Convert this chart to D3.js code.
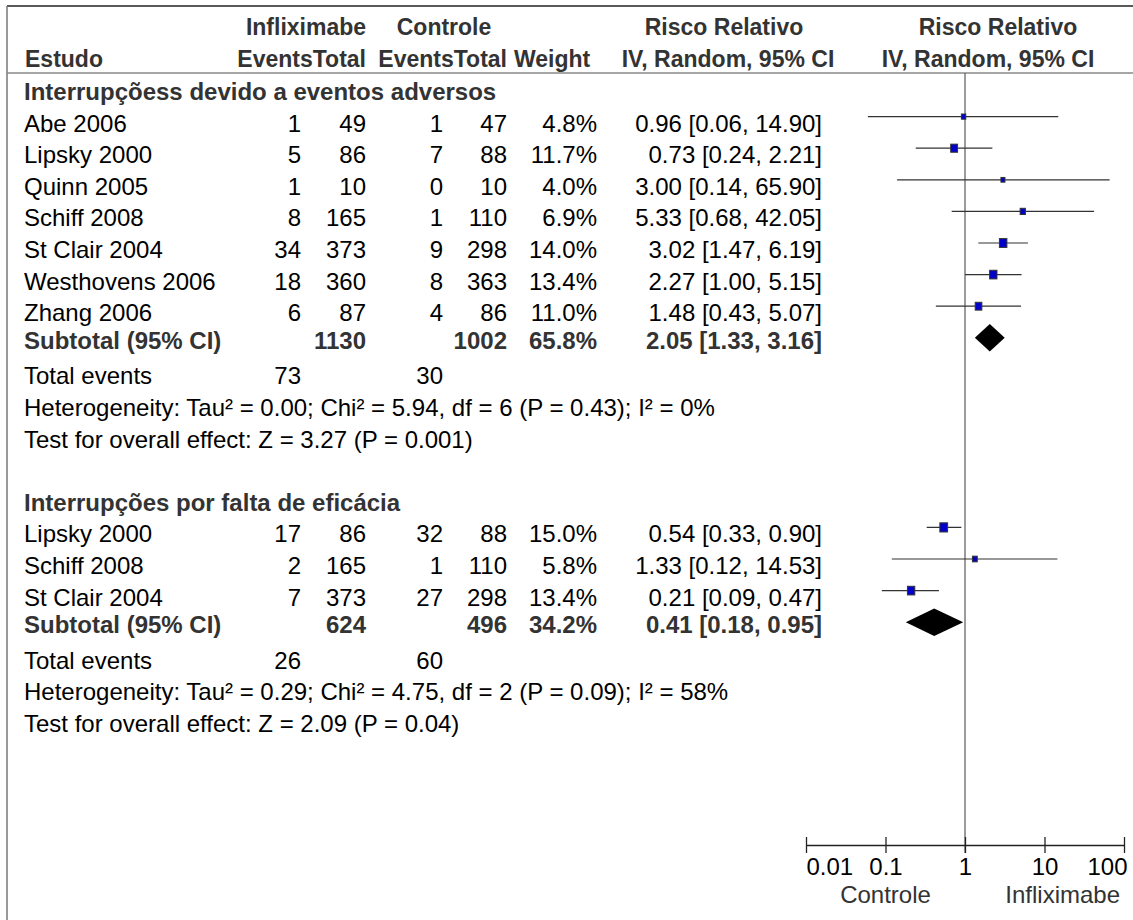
<!DOCTYPE html>
<html>
<head>
<meta charset="utf-8">
<script src="https://cdn.jsdelivr.net/npm/d3@7"></script>
<style>
body { margin: 0; background: #fff; }
text { font-family: "Liberation Sans", Arial, sans-serif; font-size: 24px; }
</style>
</head>
<body>
<div id="chart"></div>
<script>
// group 1: interrupções devido a eventos adversos
var g1Title = "Interrupçõess devido a eventos adversos";
var g1Studies = ["Abe 2006", "Lipsky 2000", "Quinn 2005", "Schiff 2008", "St Clair 2004", "Westhovens 2006", "Zhang 2006"];
var g1InfEvents = [1, 5, 1, 8, 34, 18, 6];
var g1InfTotal = [49, 86, 10, 165, 373, 360, 87];
var g1CtrlEvents = [1, 7, 0, 1, 9, 8, 4];
var g1CtrlTotal = [47, 88, 10, 110, 298, 363, 86];
var g1Weight = [4.8, 11.7, 4.0, 6.9, 14.0, 13.4, 11.0];
var g1RR = [0.96, 0.73, 3.00, 5.33, 3.02, 2.27, 1.48];
var g1Low = [0.06, 0.24, 0.14, 0.68, 1.47, 1.00, 0.43];
var g1High = [14.90, 2.21, 65.90, 42.05, 6.19, 5.15, 5.07];
var g1Sub = [1130, 1002, 65.8, 2.05, 1.33, 3.16];   // inf total, ctrl total, weight, rr, low, high
var g1TotalEvents = [73, 30];
var g1Het = "Heterogeneity: Tau² = 0.00; Chi² = 5.94, df = 6 (P = 0.43); I² = 0%";
var g1Test = "Test for overall effect: Z = 3.27 (P = 0.001)";

// group 2: interrupções por falta de eficácia
var g2Title = "Interrupções por falta de eficácia";
var g2Studies = ["Lipsky 2000", "Schiff 2008", "St Clair 2004"];
var g2InfEvents = [17, 2, 7];
var g2InfTotal = [86, 165, 373];
var g2CtrlEvents = [32, 1, 27];
var g2CtrlTotal = [88, 110, 298];
var g2Weight = [15.0, 5.8, 13.4];
var g2RR = [0.54, 1.33, 0.21];
var g2Low = [0.33, 0.12, 0.09];
var g2High = [0.90, 14.53, 0.47];
var g2Sub = [624, 496, 34.2, 0.41, 0.18, 0.95];
var g2TotalEvents = [26, 60];
var g2Het = "Heterogeneity: Tau² = 0.29; Chi² = 4.75, df = 2 (P = 0.09); I² = 58%";
var g2Test = "Test for overall effect: Z = 2.09 (P = 0.04)";

var tickValues = [0.01, 0.1, 1, 10, 100];
var tickLabels = ["0.01", "0.1", "1", "10", "100"];
var leftLabel = "Controle";
var rightLabel = "Infliximabe";

var groups = [
    {title: g1Title, names: g1Studies, ie: g1InfEvents, it: g1InfTotal, ce: g1CtrlEvents, ct: g1CtrlTotal,
     w: g1Weight, rr: g1RR, lo: g1Low, hi: g1High, sub: g1Sub, ev: g1TotalEvents, het: g1Het, test: g1Test},
    {title: g2Title, names: g2Studies, ie: g2InfEvents, it: g2InfTotal, ce: g2CtrlEvents, ct: g2CtrlTotal,
     w: g2Weight, rr: g2RR, lo: g2Low, hi: g2High, sub: g2Sub, ev: g2TotalEvents, het: g2Het, test: g2Test}
];

var svgWidth = 1133;
var svgHeight = 920;

var svg = d3.select("#chart")
    .append("svg")
    .attr("width", svgWidth)
    .attr("height", svgHeight);

// column right edges
var col = {name: 24, ie: 301, it: 366, ce: 443, ct: 507, w: 597, rr: 822};
var dark = "#333";

// row grid
var rowY = d3.scaleLinear().domain([0, 1]).range([100, 131.6]);

var x = d3.scaleLog().domain([0.01, 100]).range([806, 1124]);

// frame
svg.append("line").attr("x1", 7).attr("x2", svgWidth).attr("y1", 6).attr("y2", 6)
    .attr("stroke", "#222").attr("stroke-width", 1.5);
svg.append("line").attr("x1", 7).attr("x2", 7).attr("y1", 6).attr("y2", svgHeight)
    .attr("stroke", "#777").attr("stroke-width", 1.5);
svg.append("line").attr("x1", 7).attr("x2", svgWidth).attr("y1", 73).attr("y2", 73)
    .attr("stroke", "#888").attr("stroke-width", 1.5);

// header
var header = svg.append("g").attr("font-weight", "bold").attr("fill", dark);
function head(txt, xx, yy, anchor) {
    header.append("text").attr("x", xx).attr("y", yy).attr("text-anchor", anchor)
        .style("font-size", "23px").text(txt);
}
head("Infliximabe", 306, 35, "middle");
head("Controle", 444, 35, "middle");
head("Risco Relativo", 724, 35, "middle");
head("Risco Relativo", 998, 35, "middle");
head("Estudo", col.name + 1, 67, "start");
head("EventsTotal", col.it, 67, "end");
head("EventsTotal", col.ct, 67, "end");
head("Weight", col.ct + 7, 67, "start");
head("IV, Random, 95% CI", 728, 67, "middle");
head("IV, Random, 95% CI", 988, 67, "middle");

// null line
svg.append("line")
    .attr("x1", x(1)).attr("x2", x(1))
    .attr("y1", 73).attr("y2", 853)
    .attr("stroke", "#666").attr("stroke-width", 1.3);

var fmt2 = d3.format(".2f");
function ciText(r, l, h) { return fmt2(r) + " [" + fmt2(l) + ", " + fmt2(h) + "]"; }

var body = svg.append("g");
function cell(txt, xx, yy, anchor, bold) {
    body.append("text").attr("x", xx).attr("y", yy)
        .attr("text-anchor", anchor)
        .attr("font-weight", bold ? "bold" : null)
        .attr("fill", bold ? dark : "#000")
        .text(txt);
}

var row = 0;
groups.forEach(function(g) {
    cell(g.title, col.name, rowY(row), "start", true);
    row += 1;
    var first = row;
    g.names.forEach(function(n, i) {
        var yy = rowY(row);
        cell(n, col.name, yy, "start");
        cell(g.ie[i], col.ie, yy, "end");
        cell(g.it[i], col.it, yy, "end");
        cell(g.ce[i], col.ce, yy, "end");
        cell(g.ct[i], col.ct, yy, "end");
        cell(g.w[i].toFixed(1) + "%", col.w, yy, "end");
        cell(ciText(g.rr[i], g.lo[i], g.hi[i]), col.rr, yy, "end");
        row += 1;
    });

    // study marks
    var marks = svg.append("g");
    marks.selectAll("line")
        .data(g.names)
        .enter()
        .append("line")
        .attr("x1", (d, i) => x(g.lo[i]))
        .attr("x2", (d, i) => x(g.hi[i]))
        .attr("y1", (d, i) => rowY(first + i) - 15)
        .attr("y2", (d, i) => rowY(first + i) - 15)
        .attr("stroke", "#333")
        .attr("stroke-width", 1.2);
    marks.selectAll("rect")
        .data(g.names)
        .enter()
        .append("rect")
        .attr("x", (d, i) => x(g.rr[i]) - Math.sqrt(g.w[i]))
        .attr("y", (d, i) => rowY(first + i) - 15 - 1.18 * Math.sqrt(g.w[i]))
        .attr("width", (d, i) => 2 * Math.sqrt(g.w[i]))
        .attr("height", (d, i) => 2.36 * Math.sqrt(g.w[i]))
        .attr("fill", "#0000c8")
        .attr("stroke", "#333")
        .attr("stroke-width", 1);

    // subtotal
    var sy = rowY(row);
    cell("Subtotal (95% CI)", col.name, sy - 4, "start", true);
    cell(g.sub[0], col.it, sy - 4, "end", true);
    cell(g.sub[1], col.ct, sy - 4, "end", true);
    cell(g.sub[2].toFixed(1) + "%", col.w, sy - 4, "end", true);
    cell(ciText(g.sub[3], g.sub[4], g.sub[5]), col.rr, sy - 4, "end", true);
    var dy = sy - 15;
    svg.append("polygon")
        .attr("points", [[x(g.sub[4]), dy], [x(g.sub[3]), dy - 13.7], [x(g.sub[5]), dy], [x(g.sub[3]), dy + 13.7]].join(" "))
        .attr("fill", "#000");
    row += 1;

    cell("Total events", col.name, rowY(row), "start");
    cell(g.ev[0], col.ie, rowY(row), "end");
    cell(g.ev[1], col.ce, rowY(row), "end");
    row += 1;
    cell(g.het, col.name, rowY(row), "start");
    row += 1;
    cell(g.test, col.name, rowY(row), "start");
    row += 2;
});

// axis
var axisY = 845;
var axis = d3.axisBottom(x)
    .tickValues(tickValues)
    .tickFormat((d, i) => tickLabels[i])
    .tickSizeOuter(0);

var axisG = svg.append("g")
    .attr("transform", `translate(0, ${axisY})`)
    .call(axis);
axisG.select(".domain").attr("stroke", "#222").attr("stroke-width", 1.3);
axisG.selectAll(".tick line").attr("y1", -8).attr("y2", 8).attr("stroke", "#222").attr("stroke-width", 1.3);
axisG.selectAll(".tick text")
    .attr("y", 30).attr("dy", 0)
    .attr("font-size", 24)
    .attr("font-family", '"Liberation Sans", Arial, sans-serif')
    .attr("fill", "#000")
    .attr("text-anchor", (d, i) => i === 0 ? "start" : (i === tickValues.length - 1 ? "end" : "middle"))
    .attr("x", (d, i) => i === tickValues.length - 1 ? 3 : 0);

svg.append("text").attr("x", x(0.1)).attr("y", 903).attr("text-anchor", "middle")
    .attr("fill", dark).text(leftLabel);
svg.append("text").attr("x", 1120).attr("y", 903).attr("text-anchor", "end")
    .attr("fill", dark).text(rightLabel);
</script>
</body>
</html>
